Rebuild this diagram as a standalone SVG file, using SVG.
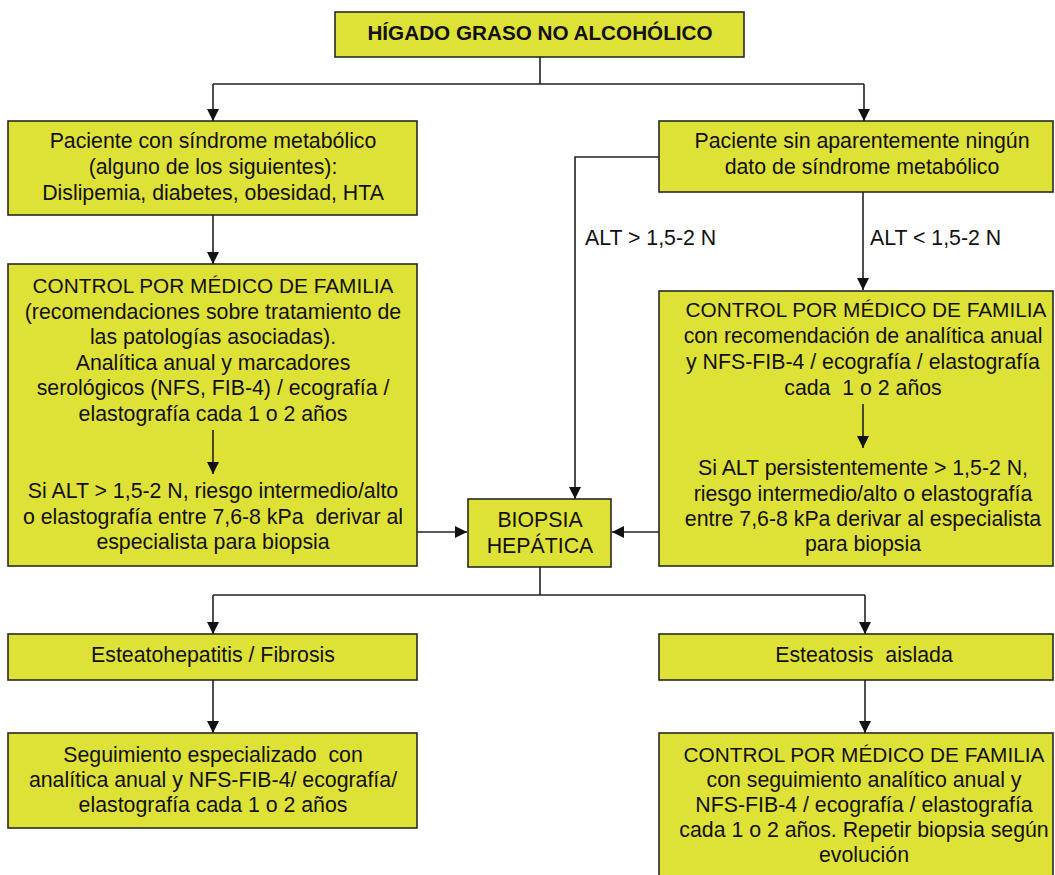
<svg xmlns="http://www.w3.org/2000/svg" width="1055" height="875" viewBox="0 0 1055 875">
<style>
.box{fill:#dfe236;stroke:#2a2a22;stroke-width:1.6}
.t{font-family:"Liberation Sans",Arial,sans-serif;font-size:21.3px;fill:#111;text-anchor:middle;white-space:pre}
.cap{font-size:20.8px}
.ttl{font-weight:bold;font-size:20.7px}
.lbl{font-family:"Liberation Sans",Arial,sans-serif;font-size:21.3px;fill:#111}
.c{fill:none;stroke:#222;stroke-width:1.6}
</style>
<defs>
<marker id="ah" viewBox="0 0 12 12" refX="12" refY="6" markerWidth="12" markerHeight="12" markerUnits="userSpaceOnUse" orient="auto">
<path d="M0,0 L12,6 L0,12 z" fill="#111"/>
</marker>
</defs>
<rect width="1055" height="875" fill="#fff"/>
<g id="n-higado">
<rect class="box" x="335" y="12" width="409" height="45"/>
<text class="t ttl" x="540" y="40">HÍGADO GRASO NO ALCOHÓLICO</text>
</g>
<g id="n-sindrome">
<rect class="box" x="8" y="121" width="409" height="94"/>
<text class="t" x="213" y="148">Paciente con síndrome metabólico</text>
<text class="t" x="213" y="174">(alguno de los siguientes):</text>
<text class="t" x="213" y="200">Dislipemia, diabetes, obesidad, HTA</text>
</g>
<g id="n-sin-sindrome">
<rect class="box" x="659" y="121" width="394" height="71"/>
<text class="t" x="862" y="148">Paciente sin aparentemente ningún</text>
<text class="t" x="862" y="174">dato de síndrome metabólico</text>
</g>
<g id="n-control-izq">
<rect class="box" x="8" y="264" width="409" height="302"/>
<text class="t cap" x="213" y="293">CONTROL POR MÉDICO DE FAMILIA</text>
<text class="t" x="213" y="318.5">(recomendaciones sobre tratamiento de</text>
<text class="t" x="213" y="344">las patologías asociadas).</text>
<text class="t" x="213" y="369.5">Analítica anual y marcadores</text>
<text class="t" x="213" y="395">serológicos (NFS, FIB-4) / ecografía /</text>
<text class="t" x="213" y="420.5">elastografía cada 1 o 2 años</text>
<text class="t" x="213" y="498">Si ALT &gt; 1,5-2 N, riesgo intermedio/alto</text>
<text class="t" x="213" y="523.5">o elastografía entre 7,6-8 kPa  derivar al</text>
<text class="t" x="213" y="549">especialista para biopsia</text>
</g>
<g id="n-control-der">
<rect class="box" x="659" y="291" width="394" height="275"/>
<text class="t cap" x="866" y="317">CONTROL POR MÉDICO DE FAMILIA</text>
<text class="t" x="863" y="343">con recomendación de analítica anual</text>
<text class="t" x="863" y="369">y NFS-FIB-4 / ecografía / elastografía</text>
<text class="t" x="863" y="395">cada  1 o 2 años</text>
<text class="t" x="863" y="475">Si ALT persistentemente &gt; 1,5-2 N,</text>
<text class="t" x="863" y="500.5">riesgo intermedio/alto o elastografía</text>
<text class="t" x="863" y="526">entre 7,6-8 kPa derivar al especialista</text>
<text class="t" x="863" y="551">para biopsia</text>
</g>
<g id="n-biopsia">
<rect class="box" x="468" y="499" width="143" height="68"/>
<text class="t" x="540" y="527">BIOPSIA</text>
<text class="t" x="540" y="553">HEPÁTICA</text>
</g>
<g id="n-esteatohepatitis">
<rect class="box" x="8" y="634" width="409" height="46"/>
<text class="t" x="213" y="662">Esteatohepatitis / Fibrosis</text>
</g>
<g id="n-esteatosis">
<rect class="box" x="659" y="634" width="394" height="46"/>
<text class="t" x="864" y="662">Esteatosis  aislada</text>
</g>
<g id="n-seguimiento">
<rect class="box" x="8" y="733" width="409" height="95"/>
<text class="t" x="213" y="762">Seguimiento especializado  con</text>
<text class="t" x="213" y="787">analítica anual y NFS-FIB-4/ ecografía/</text>
<text class="t" x="213" y="812">elastografía cada 1 o 2 años</text>
</g>
<g id="n-control-esteatosis">
<rect class="box" x="659" y="733" width="394" height="150"/>
<text class="t cap" x="864" y="762">CONTROL POR MÉDICO DE FAMILIA</text>
<text class="t" x="864" y="787">con seguimiento analítico anual y</text>
<text class="t" x="864" y="812">NFS-FIB-4 / ecografía / elastografía</text>
<text class="t" x="864" y="837">cada 1 o 2 años. Repetir biopsia según</text>
<text class="t" x="864" y="862">evolución</text>
</g>
<g id="connectors">
<path class="c" d="M540,57 V84 M213,84 H864"/>
<path class="c" d="M213,84 V121" marker-end="url(#ah)"/>
<path class="c" d="M864,84 V121" marker-end="url(#ah)"/>
<path class="c" d="M213,215 V264" marker-end="url(#ah)"/>
<path class="c" d="M659,157 H575 V499" marker-end="url(#ah)"/>
<path class="c" d="M863,192 V290" marker-end="url(#ah)"/>
<path class="c" d="M213,430 V474" marker-end="url(#ah)"/>
<path class="c" d="M863,404 V448" marker-end="url(#ah)"/>
<path class="c" d="M417,532 H467" marker-end="url(#ah)"/>
<path class="c" d="M659,532 H612" marker-end="url(#ah)"/>
<path class="c" d="M540,567 V595 M213,595 H865"/>
<path class="c" d="M213,595 V634" marker-end="url(#ah)"/>
<path class="c" d="M865,595 V634" marker-end="url(#ah)"/>
<path class="c" d="M213,680 V733" marker-end="url(#ah)"/>
<path class="c" d="M865,680 V733" marker-end="url(#ah)"/>
<text class="lbl" x="585" y="245">ALT &gt; 1,5-2 N</text>
<text class="lbl" x="870" y="245">ALT &lt; 1,5-2 N</text>
</g>
</svg>
